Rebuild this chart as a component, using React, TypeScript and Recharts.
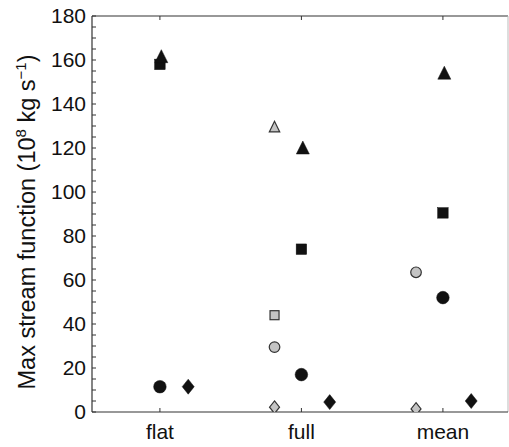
import { ScatterChart, Scatter, XAxis, YAxis, ReferenceLine } from 'recharts'

const categories = ['flat', 'full', 'mean']
const yLabels = [0, 20, 40, 60, 80, 100, 120, 140, 160, 180]
const yMinorTicks = Array.from({ length: 37 }, (_, i) => i * 5)

// values per category (flat, full, mean); null = not plotted
const blackTriangle = [161.5, 120, 154]
const blackSquare = [158, 74, 90.5]
const blackCircle = [11.5, 17, 52]
const blackDiamond = [11.5, 4.5, 5]
const grayTriangle = [null, 129.5, null]
const graySquare = [null, 44, null]
const grayCircle = [null, 29.5, 63.5]
const grayDiamond = [null, 2.2, 1.4]

const INK = '#111'
const GRAY = '#c4c4c4'
const X_DOMAIN = [0.52, 3.46]
const Y_DOMAIN = [0, 180]

type Mark = 'triangle' | 'square' | 'circle' | 'diamond'

const drawMark = (kind: Mark, gray: boolean) => (props: any) => {
  const { cx, cy } = props
  if (cx == null || cy == null) return <g />
  const fill = gray ? GRAY : INK
  const stroke = gray ? '#333' : INK
  const sw = gray ? 1.2 : 0.5
  const k = gray ? 0.8 : 1
  if (kind === 'triangle') {
    const w = 13 * k
    const h = 12 * k
    return (
      <polygon
        points={`${cx},${cy - h / 2 - 1} ${cx - w / 2},${cy + h / 2} ${cx + w / 2},${cy + h / 2}`}
        fill={fill}
        stroke={stroke}
        strokeWidth={sw}
      />
    )
  }
  if (kind === 'square') {
    const s = gray ? 9 : 10.5
    return <rect x={cx - s / 2} y={cy - s / 2} width={s} height={s} fill={fill} stroke={stroke} strokeWidth={sw} />
  }
  if (kind === 'circle') {
    return <circle cx={cx} cy={cy} r={gray ? 5.3 : 6.3} fill={fill} stroke={stroke} strokeWidth={sw} />
  }
  const w = gray ? 10 : 12
  const h = gray ? 12.5 : 15
  return (
    <polygon
      points={`${cx},${cy - h / 2} ${cx + w / 2},${cy} ${cx},${cy + h / 2} ${cx - w / 2},${cy}`}
      fill={fill}
      stroke={stroke}
      strokeWidth={sw}
    />
  )
}

const series: { name: string; values: (number | null)[]; kind: Mark; gray: boolean; offset: number }[] = [
  { name: 'blackSquare', values: blackSquare, kind: 'square', gray: false, offset: 0 },
  { name: 'blackTriangle', values: blackTriangle, kind: 'triangle', gray: false, offset: 0.01 },
  { name: 'blackCircle', values: blackCircle, kind: 'circle', gray: false, offset: 0 },
  { name: 'blackDiamond', values: blackDiamond, kind: 'diamond', gray: false, offset: 0.2 },
  { name: 'grayTriangle', values: grayTriangle, kind: 'triangle', gray: true, offset: -0.19 },
  { name: 'graySquare', values: graySquare, kind: 'square', gray: true, offset: -0.19 },
  { name: 'grayCircle', values: grayCircle, kind: 'circle', gray: true, offset: -0.19 },
  { name: 'grayDiamond', values: grayDiamond, kind: 'diamond', gray: true, offset: -0.19 },
]

const toPoints = (values: (number | null)[], offset: number) =>
  values
    .map((v, i) => ({ x: i + 1 + offset, y: v }))
    .filter((d) => d.y != null)

const FONT = '"Liberation Sans", Arial, sans-serif'

const YLabel = () => (
  <text
    x={35}
    y={222}
    transform="rotate(-90, 35, 222)"
    textAnchor="middle"
    fontSize={23.5}
    fontFamily={FONT}
    fill={INK}
  >
    Max stream function (10
    <tspan dy={-9} fontSize={15}>8</tspan>
    <tspan dy={9}> kg s</tspan>
    <tspan dy={-9} fontSize={15}>−1</tspan>
    <tspan dy={9}>)</tspan>
  </text>
)

// small inward tick at the top frame for each category
const TopTick = (props: any) => {
  const { x, y } = props
  return <line x1={x} x2={x} y1={y} y2={y + 4} stroke="#333" />
}

export default function App() {
  return (
    <div style={{ position: 'absolute', left: 0, top: 0, background: '#fff' }}>
      <ScatterChart width={509} height={447} margin={{ top: 16, right: 1, bottom: 0, left: 0 }}>
        <XAxis
          xAxisId="bottom"
          dataKey="x"
          type="number"
          domain={X_DOMAIN}
          allowDataOverflow
          ticks={[1, 2, 3]}
          tickFormatter={(v: number) => categories[Math.round(v) - 1] ?? ''}
          height={35}
          tickSize={-4}
          tickMargin={16}
          axisLine={{ stroke: '#333', strokeWidth: 1.2 }}
          tickLine={{ stroke: '#333' }}
          tick={{ fontSize: 21, fill: INK, fontFamily: FONT }}
        />
        <YAxis
          yAxisId="left"
          dataKey="y"
          type="number"
          domain={Y_DOMAIN}
          allowDataOverflow
          ticks={yMinorTicks}
          interval={0}
          tickFormatter={(v: number) => (yLabels.includes(v) ? String(v) : '')}
          width={92}
          tickSize={-4}
          tickMargin={10}
          axisLine={{ stroke: '#333', strokeWidth: 1.2 }}
          tickLine={{ stroke: '#333' }}
          tick={{ fontSize: 21, fill: INK, fontFamily: FONT }}
          label={() => <YLabel />}
        />
        {/* frame: top and right edges */}
        <ReferenceLine xAxisId="bottom" yAxisId="left" y={Y_DOMAIN[1]} stroke="#333" strokeWidth={1.2} ifOverflow="visible" />
        <ReferenceLine xAxisId="bottom" yAxisId="left" x={X_DOMAIN[1]} stroke="#bbb" strokeWidth={1} ifOverflow="visible" />
        {[1, 2, 3].map((c) => (
          <ReferenceLine
            key={c}
            xAxisId="bottom"
            yAxisId="left"
            x={c}
            stroke="none"
            label={(p: any) => <TopTick x={p.viewBox.x} y={p.viewBox.y} />}
          />
        ))}
        {series.map((s) => (
          <Scatter
            key={s.name}
            name={s.name}
            data={toPoints(s.values, s.offset)}
            xAxisId="bottom"
            yAxisId="left"
            shape={drawMark(s.kind, s.gray)}
            isAnimationActive={false}
          />
        ))}
      </ScatterChart>
    </div>
  )
}
